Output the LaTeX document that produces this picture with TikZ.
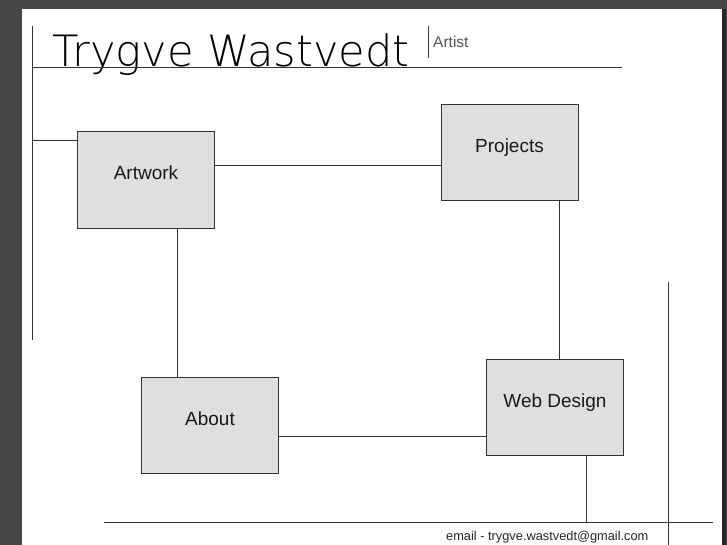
\documentclass[tikz,border=0pt]{standalone}
\usepackage{fontspec}
\setmainfont{Liberation Sans}
\newfontfamily\titlefont{DejaVu Sans ExtraLight}
\usepackage{tikz}
\usetikzlibrary{calc}
\definecolor{pagegray}{HTML}{464646}
\definecolor{boxgray}{HTML}{DFDFDF}
\definecolor{linegray}{HTML}{333333}
\definecolor{textgray}{HTML}{555555}

\begin{document}
\begin{tikzpicture}[%
        x=1pt, y=-1pt,
        rule/.style={draw=linegray, line width=1pt},
        page/.style={rectangle, draw=linegray, line width=1pt, fill=boxgray,
            minimum width=137pt, minimum height=96pt, inner sep=0pt,
            text height=10pt, text depth=10pt,
            font=\fontsize{19}{22}\selectfont, text=black!90}
        ]
        \useasboundingbox (0,0) rectangle (727,545);
        \fill[pagegray] (0,0) rectangle (727,545);
        \fill[black!85] (722,9) rectangle (726,545);
        \fill[white] (22,9) rectangle (722,545);

        \node[anchor=base west, inner sep=0pt, font=\titlefont\fontsize{43.2}{47}\selectfont] (title) at (52,67) {Trygve Wastvedt};
        \node[anchor=base west, inner sep=0pt, text=textgray, font=\fontsize{15.5}{18}\selectfont] (artist) at (433,48) {Artist};
        \node[anchor=base west, inner sep=0pt, text=black!85, font=\fontsize{12.8}{15}\selectfont] (email) at (446,540) {email - trygve.wastvedt@gmail.com};

        \node[page] (artwork) at (146,180) {Artwork};
        \node[page] (projects) at (509.5,153) {Projects};
        \node[page] (about) at (210,425.5) {About};
        \node[page] (webdesign) at (555,407.5) {Web Design};

        \coordinate (sidetop) at (32,26);
        \coordinate (sidebot) at (32,340);
        \coordinate (headend) at (622,68);
        \coordinate (artisttop) at (428,26);
        \coordinate (artistbot) at (428,58);
        \coordinate (foot1) at (104,522);
        \coordinate (foot2) at (713,522);
        \coordinate (footjoin) at (586,522);
        \coordinate (edgetop) at (668,282);
        \coordinate (edgebot) at (668,545);

        \draw[rule] (sidetop) -- (sidebot);
        \draw[rule] (sidetop |- headend) -- (headend);
        \draw[rule] (artisttop) -- (artistbot);
        \draw[rule] (foot1) -- (foot2);
        \draw[rule] (edgetop) -- (edgebot);

        \draw[rule] (sidetop |- 0,141) -- (artwork.west |- 0,141);
        \draw[rule] (artwork.east |- 0,166) -- (projects.west |- 0,166);
        \draw[rule] (artwork.south -| 177,0) -- (about.north -| 177,0);
        \draw[rule] (projects.south -| 559,0) -- (webdesign.north -| 559,0);
        \draw[rule] (about.east |- 0,436) -- (webdesign.west |- 0,436);
        \draw[rule] (webdesign.south -| footjoin) -- (footjoin);
\end{tikzpicture}
\end{document}
